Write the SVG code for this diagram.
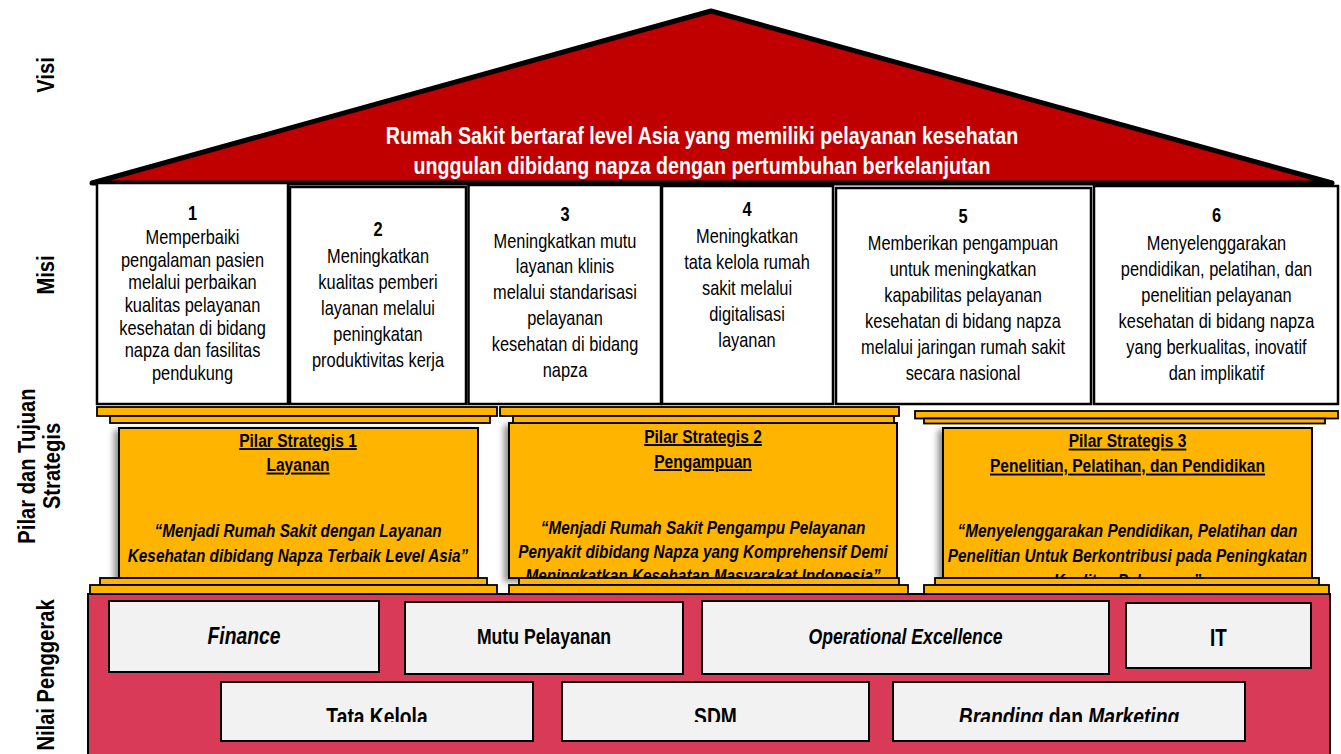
<svg xmlns="http://www.w3.org/2000/svg" width="1341" height="754" viewBox="0 0 1341 754">
  <style>
    text { font-family: "Liberation Sans", Arial, sans-serif; fill: #000; text-anchor: middle; }
    .lbl { font-weight: bold; font-size: 24px; }
    .visi { font-weight: bold; font-size: 24px; fill: #fff; }
    .misi { font-size: 20px; }
    .num { font-weight: bold; }
    .ptitle { font-weight: bold; font-size: 19px; text-decoration: underline; }
    .pquote { font-weight: bold; font-style: italic; font-size: 18.7px; }
    .nv { font-weight: bold; font-size: 21.5px; }
    .nv2 { font-weight: bold; font-size: 23.5px; }
    .it { font-style: italic; }
    .box { fill: #fff; stroke: #000; stroke-width: 2.5; }
    .bar { fill: #FFB500; stroke: #000; stroke-width: 1.8; }
    .body { fill: #FFB500; stroke: #000; stroke-width: 2; filter: url(#shadow); }
    .val { fill: #F2F2F2; stroke: #000; stroke-width: 2; }
  </style>
  <defs>
    <filter id="shadow" x="-10%" y="-10%" width="120%" height="120%">
      <feDropShadow dx="-4" dy="3" stdDeviation="3" flood-color="#000" flood-opacity="0.45"/>
    </filter>
    <clipPath id="row2clip">
      <rect x="0" y="600" width="1341" height="122"/>
    </clipPath>
  </defs>

  <rect width="1341" height="754" fill="#fff"/>

  <!-- row labels on the left -->
  <g id="labels">
    <text class="lbl" transform="translate(54 75) rotate(-90) scale(.84 1)">Visi</text>
    <text class="lbl" transform="translate(54 275) rotate(-90) scale(.84 1)">Misi</text>
    <text class="lbl" transform="translate(35 466) rotate(-90) scale(.84 1)"><tspan x="0" y="0">Pilar dan Tujuan</tspan><tspan x="0" dy="25">Strategis</tspan></text>
    <text class="lbl" transform="translate(54 675) rotate(-90) scale(.84 1)">Nilai Penggerak</text>
  </g>

  <!-- roof: vision -->
  <g id="visi">
    <polygon points="92,183 711,11 1332,183" fill="#C00000" stroke="#000" stroke-width="5" stroke-linejoin="round"/>
    <text class="visi" transform="translate(702 0) scale(.82 1)"><tspan x="0" y="144">Rumah Sakit bertaraf level Asia yang memiliki pelayanan kesehatan</tspan><tspan x="0" y="174">unggulan dibidang napza dengan pertumbuhan berkelanjutan</tspan></text>
  </g>

  <!-- mission boxes -->
  <g id="misi-1">
    <rect class="box" x="97" y="183" width="191" height="221"/>
    <text class="misi" transform="translate(192.5 0) scale(.82 1)"><tspan class="num" x="0" y="220">1</tspan><tspan x="0" y="244">Memperbaiki</tspan><tspan x="0" y="266.7">pengalaman pasien</tspan><tspan x="0" y="289.4">melalui perbaikan</tspan><tspan x="0" y="312">kualitas pelayanan</tspan><tspan x="0" y="334.7">kesehatan di bidang</tspan><tspan x="0" y="357.4">napza dan fasilitas</tspan><tspan x="0" y="380">pendukung</tspan></text>
  </g>
  <g id="misi-2">
    <rect class="box" x="290" y="187" width="176" height="217"/>
    <text class="misi" transform="translate(378 0) scale(.82 1)"><tspan class="num" x="0" y="236">2</tspan><tspan x="0" y="263">Meningkatkan</tspan><tspan x="0" y="289">kualitas pemberi</tspan><tspan x="0" y="315">layanan melalui</tspan><tspan x="0" y="341">peningkatan</tspan><tspan x="0" y="367">produktivitas kerja</tspan></text>
  </g>
  <g id="misi-3">
    <rect class="box" x="468.5" y="185" width="192.5" height="219"/>
    <text class="misi" transform="translate(565 0) scale(.82 1)"><tspan class="num" x="0" y="220.7">3</tspan><tspan x="0" y="247.7">Meningkatkan mutu</tspan><tspan x="0" y="273.5">layanan klinis</tspan><tspan x="0" y="299.3">melalui standarisasi</tspan><tspan x="0" y="325.1">pelayanan</tspan><tspan x="0" y="350.9">kesehatan di bidang</tspan><tspan x="0" y="376.7">napza</tspan></text>
  </g>
  <g id="misi-4">
    <rect class="box" x="662" y="186" width="171" height="218"/>
    <text class="misi" transform="translate(747 0) scale(.82 1)"><tspan class="num" x="0" y="216">4</tspan><tspan x="0" y="242.7">Meningkatkan</tspan><tspan x="0" y="268.7">tata kelola rumah</tspan><tspan x="0" y="294.7">sakit melalui</tspan><tspan x="0" y="320.7">digitalisasi</tspan><tspan x="0" y="346.7">layanan</tspan></text>
  </g>
  <g id="misi-5">
    <rect class="box" x="836" y="188" width="255" height="216"/>
    <text class="misi" transform="translate(963 0) scale(.82 1)"><tspan class="num" x="0" y="223.3">5</tspan><tspan x="0" y="250">Memberikan pengampuan</tspan><tspan x="0" y="276">untuk meningkatkan</tspan><tspan x="0" y="302">kapabilitas pelayanan</tspan><tspan x="0" y="328">kesehatan di bidang napza</tspan><tspan x="0" y="354">melalui jaringan rumah sakit</tspan><tspan x="0" y="380">secara nasional</tspan></text>
  </g>
  <g id="misi-6">
    <rect class="box" x="1094" y="186" width="244" height="218"/>
    <text class="misi" transform="translate(1216.5 0) scale(.82 1)"><tspan class="num" x="0" y="222.3">6</tspan><tspan x="0" y="250">Menyelenggarakan</tspan><tspan x="0" y="276">pendidikan, pelatihan, dan</tspan><tspan x="0" y="302">penelitian pelayanan</tspan><tspan x="0" y="328">kesehatan di bidang napza</tspan><tspan x="0" y="354">yang berkualitas, inovatif</tspan><tspan x="0" y="380">dan implikatif</tspan></text>
  </g>

  <!-- base: driving values -->
  <g id="nilai">
    <rect x="88" y="594" width="1242" height="165" fill="#D93A57" stroke="#000" stroke-width="2"/>
    <g id="nilai-finance">
      <rect class="val" x="109" y="601" width="270" height="71"/>
      <text class="nv it" style="font-size:23px" transform="translate(244 644) scale(.84 1)">Finance</text>
    </g>
    <g id="nilai-mutu">
      <rect class="val" x="405" y="602" width="278" height="72"/>
      <text class="nv" transform="translate(544 644) scale(.82 1)">Mutu Pelayanan</text>
    </g>
    <g id="nilai-opex">
      <rect class="val" x="702" y="601" width="407" height="73"/>
      <text class="nv it" transform="translate(905.5 644) scale(.82 1)">Operational Excellence</text>
    </g>
    <g id="nilai-it">
      <rect class="val" x="1126" y="603" width="185" height="65"/>
      <text class="nv" style="font-size:23px" transform="translate(1218.5 646) scale(.82 1)">IT</text>
    </g>
    <g id="nilai-tatakelola">
      <rect class="val" x="221" y="682" width="312" height="59"/>
      <g clip-path="url(#row2clip)"><text class="nv2" transform="translate(377 725) scale(.82 1)">Tata Kelola</text></g>
    </g>
    <g id="nilai-sdm">
      <rect class="val" x="562" y="682" width="307" height="59"/>
      <g clip-path="url(#row2clip)"><text class="nv2" transform="translate(715.5 725) scale(.82 1)">SDM</text></g>
    </g>
    <g id="nilai-branding">
      <rect class="val" x="893" y="682" width="352" height="59"/>
      <g clip-path="url(#row2clip)"><text class="nv2" transform="translate(1069 725) scale(.82 1)"><tspan class="it">Branding</tspan> dan <tspan class="it">Marketing</tspan></text></g>
    </g>
  </g>

  <!-- strategic pillars -->
  <g id="pilar-1">
    <rect class="body" x="119" y="428" width="359" height="150"/>
    <text transform="translate(298 0) scale(.82 1)"><tspan class="ptitle" x="0" y="447">Pilar Strategis 1</tspan><tspan class="ptitle" x="0" y="471.5">Layanan</tspan><tspan class="pquote" x="0" y="537">“Menjadi Rumah Sakit dengan Layanan</tspan><tspan class="pquote" x="0" y="562">Kesehatan dibidang Napza Terbaik Level Asia”</tspan></text>
    <rect class="bar" x="97" y="407" width="400" height="9"/>
    <rect class="bar" x="110" y="416" width="380" height="7"/>
    <rect class="bar" x="100" y="578" width="387" height="7"/>
    <rect class="bar" x="90" y="585" width="407" height="9"/>
  </g>
  <g id="pilar-2">
    <rect class="body" x="509" y="423" width="388" height="155"/>
    <text transform="translate(703 0) scale(.82 1)"><tspan class="ptitle" x="0" y="443">Pilar Strategis 2</tspan><tspan class="ptitle" x="0" y="468">Pengampuan</tspan><tspan class="pquote" x="0" y="534">“Menjadi Rumah Sakit Pengampu Pelayanan</tspan><tspan class="pquote" x="0" y="558">Penyakit dibidang Napza yang Komprehensif Demi</tspan><tspan class="pquote" x="0" y="582">Meningkatkan Kesehatan Masyarakat Indonesia”</tspan></text>
    <rect class="bar" x="500" y="407" width="399" height="9"/>
    <rect class="bar" x="513" y="416" width="381" height="7"/>
    <rect class="bar" x="519" y="578" width="380" height="7"/>
    <rect class="bar" x="509" y="585" width="399" height="9"/>
  </g>
  <g id="pilar-3">
    <rect class="body" x="943" y="428" width="369" height="150"/>
    <text transform="translate(1127.5 0) scale(.82 1)"><tspan class="ptitle" x="0" y="447.5">Pilar Strategis 3</tspan><tspan class="ptitle" x="0" y="472.5">Penelitian, Pelatihan, dan Pendidikan</tspan><tspan class="pquote" x="0" y="537">“Menyelenggarakan Pendidikan, Pelatihan dan</tspan><tspan class="pquote" x="0" y="562">Penelitian Untuk Berkontribusi pada Peningkatan</tspan><tspan class="pquote" x="0" y="587">Kualitas Pelayanan”</tspan></text>
    <rect class="bar" x="915" y="411" width="423" height="7.5"/>
    <rect class="bar" x="924" y="418.5" width="401" height="5"/>
    <rect class="bar" x="935" y="578" width="384" height="7"/>
    <rect class="bar" x="924" y="585" width="405" height="9"/>
  </g>

  <!-- no connectors in this figure -->
  <g id="connectors"/>
</svg>
